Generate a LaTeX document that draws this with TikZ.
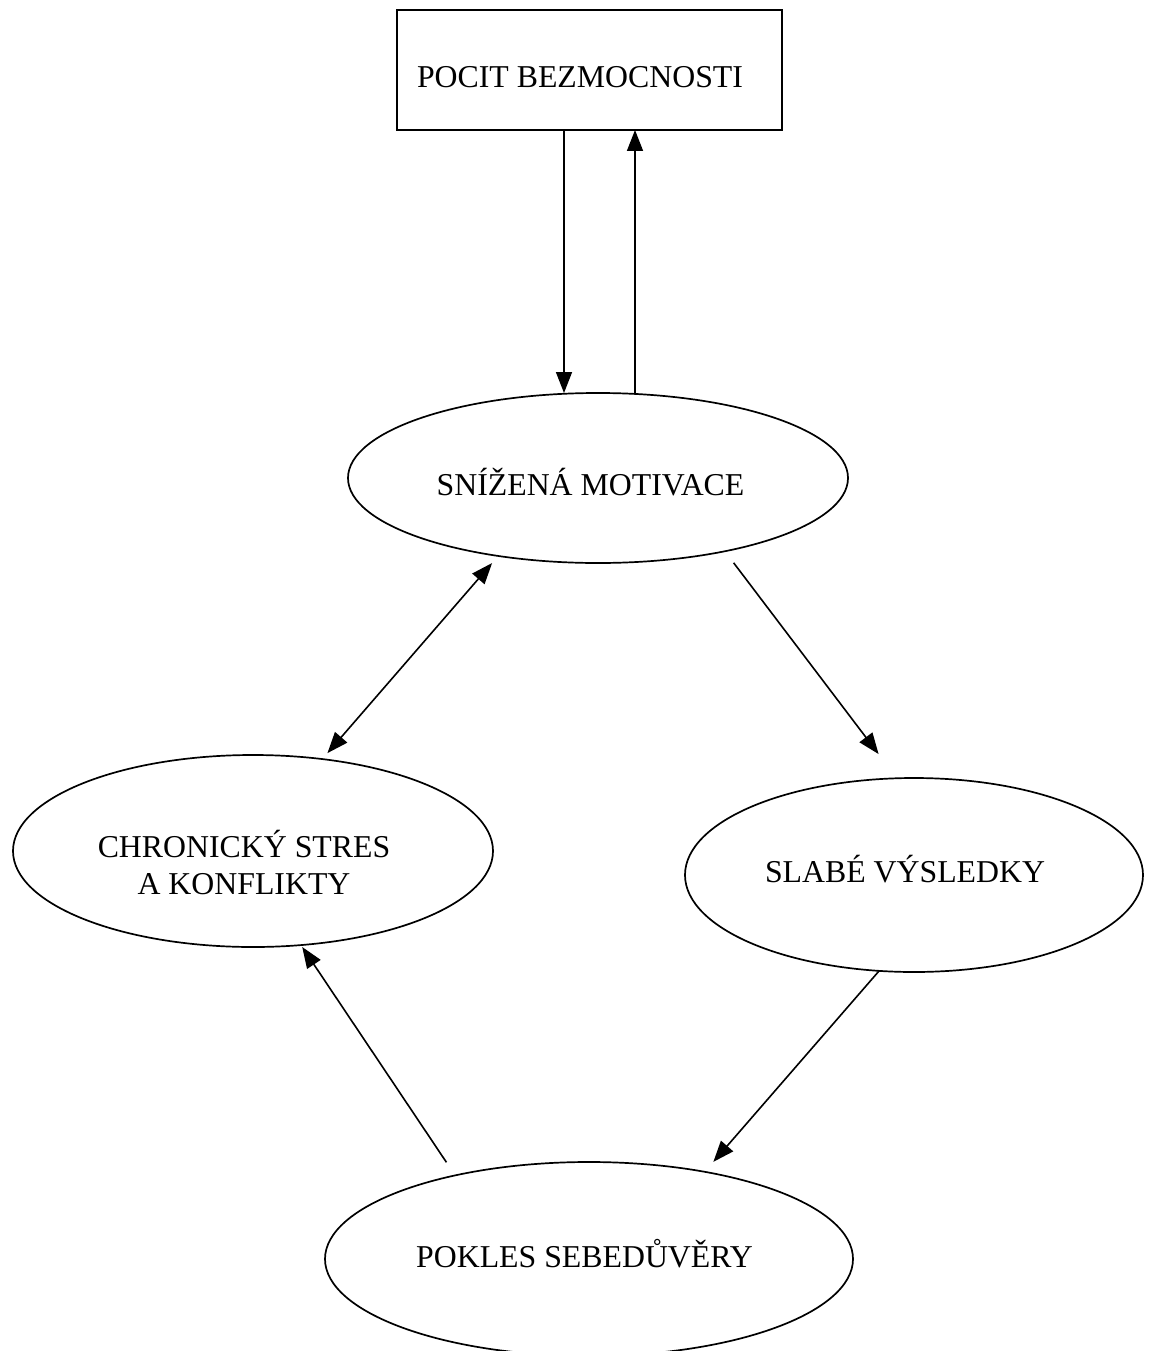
\documentclass[tikz,border=0pt]{standalone}
\usepackage{fontspec}
\setmainfont{Liberation Serif}
\usetikzlibrary{shapes.geometric,arrows.meta}
\begin{document}
\begin{tikzpicture}[x=1pt,y=-1pt,
  txt/.style={font=\fontsize{31.8}{37}\selectfont, inner sep=0pt, outer sep=0pt, text depth=0pt},
  oval/.style={txt, ellipse, draw, line width=1.7pt},
  tip/.tip={Triangle[length=21pt,width=16pt]},
  arr/.style={line width=1.6pt, -tip},
  darr/.style={line width=1.6pt, tip-tip},
  ]
\useasboundingbox (0,0) rectangle (1153,1351);
\node[txt, draw, rectangle, line width=1.7pt, minimum width=385pt, minimum height=120pt, text height=36pt] (b) at (589.5,70) {POCIT BEZMOCNOSTI\hspace*{19pt}};
\node[oval, minimum width=500pt, minimum height=170pt, text height=34pt] (m) at (598,478) {SNÍŽENÁ MOTIVACE\hspace*{15pt}};
\node[oval, minimum width=480pt, minimum height=192pt, text height=49pt, text depth=37pt] (c) at (253,851) {\vtop{\halign{\hfil#\hfil\cr CHRONICKÝ STRES\cr A KONFLIKTY\cr}}\hspace*{18pt}};
\node[oval, minimum width=458pt, minimum height=194pt, text height=14pt] (s) at (914,875) {SLABÉ VÝSLEDKY\hspace*{18pt}};
\node[oval, minimum width=528pt, minimum height=194pt, text height=16pt] (k) at (589,1259) {POKLES SEBEDŮVĚRY\hspace*{9pt}};
\draw[arr] ([xshift=-25.5pt]b.south) -- ([xshift=-25.5pt]b.south |- m.north);
\draw[arr] ([xshift=45.5pt]b.south |- m.north) -- ([xshift=45.5pt]b.south);
\draw[darr, shorten <=9.4pt, shorten >=7.9pt] (m.-142) -- (c.53.6);
\draw[arr, shorten <=14.5pt, shorten >=30.4pt] (m.-30.2) -- (s.100.9);
\draw[arr, shorten >=13.2pt] (s.-110.5) -- (k.37.2);
\draw[arr, shorten <=15.7pt, shorten >=2.3pt] (k.148.9) -- (c.-63.1);
\end{tikzpicture}
\end{document}
